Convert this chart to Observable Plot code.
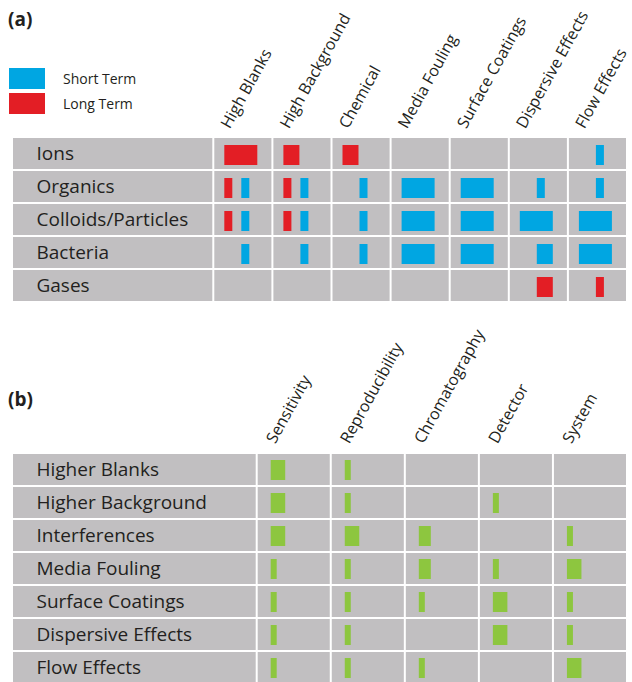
<!DOCTYPE html>
<html>
<head>
<meta charset="utf-8">
<script src="https://cdn.jsdelivr.net/npm/d3@7"></script>
<script src="https://cdn.jsdelivr.net/npm/@observablehq/plot@0.6"></script>
<style>
  html, body { margin: 0; padding: 0; overflow: hidden; background: white; }
  #wrap { position: relative; width: 632px; font-family: "Open Sans", sans-serif; color: #231f20; }
  .tag { position: absolute; left: 8px; font-weight: bold; font-size: 19px; line-height: 19px; }
  #legend { position: absolute; left: 9px; top: 68px; }
  #legend .lg-swatch > svg { margin-right: 18px !important; }
  #legend .lg-swatch { padding-bottom: 4px !important; }
  #legend .lg-swatches { margin: 0 !important; }
</style>
</head>
<body>
<div id="wrap">
  <div id="chartA"></div>
  <div id="chartB"></div>
  <div class="tag" style="top:10px">(a)</div>
  <div class="tag" style="top:390px">(b)</div>
  <div id="legend"></div>
</div>
<script>
// ---------- Panel (a) data ----------
const rowsA = ["Ions", "Organics", "Colloids/Particles", "Bacteria", "Gases"];
const colsA = ["High Blanks", "High Background", "Chemical", "Media Fouling",
               "Surface Coatings", "Dispersive Effects", "Flow Effects"];
const terms = ["Short Term", "Long Term"];
// [row, column, term, level (1 minor, 2 moderate, 3 major), lane (0 first, 1 second)]
const impactsA = [
  ["Ions", "High Blanks", "Long Term", 3, 0],
  ["Ions", "High Background", "Long Term", 2, 0],
  ["Ions", "Chemical", "Long Term", 2, 0],
  ["Ions", "Flow Effects", "Short Term", 1, 1],
  ["Organics", "High Blanks", "Long Term", 1, 0],
  ["Organics", "High Blanks", "Short Term", 1, 1],
  ["Organics", "High Background", "Long Term", 1, 0],
  ["Organics", "High Background", "Short Term", 1, 1],
  ["Organics", "Chemical", "Short Term", 1, 1],
  ["Organics", "Media Fouling", "Short Term", 3, 0],
  ["Organics", "Surface Coatings", "Short Term", 3, 0],
  ["Organics", "Dispersive Effects", "Short Term", 1, 1],
  ["Organics", "Flow Effects", "Short Term", 1, 1],
  ["Colloids/Particles", "High Blanks", "Long Term", 1, 0],
  ["Colloids/Particles", "High Blanks", "Short Term", 1, 1],
  ["Colloids/Particles", "High Background", "Long Term", 1, 0],
  ["Colloids/Particles", "High Background", "Short Term", 1, 1],
  ["Colloids/Particles", "Chemical", "Short Term", 1, 1],
  ["Colloids/Particles", "Media Fouling", "Short Term", 3, 0],
  ["Colloids/Particles", "Surface Coatings", "Short Term", 3, 0],
  ["Colloids/Particles", "Dispersive Effects", "Short Term", 3, 0],
  ["Colloids/Particles", "Flow Effects", "Short Term", 3, 0],
  ["Bacteria", "High Blanks", "Short Term", 1, 1],
  ["Bacteria", "High Background", "Short Term", 1, 1],
  ["Bacteria", "Chemical", "Short Term", 1, 1],
  ["Bacteria", "Media Fouling", "Short Term", 3, 0],
  ["Bacteria", "Surface Coatings", "Short Term", 3, 0],
  ["Bacteria", "Dispersive Effects", "Short Term", 2, 1],
  ["Bacteria", "Flow Effects", "Short Term", 3, 0],
  ["Gases", "Dispersive Effects", "Long Term", 2, 1],
  ["Gases", "Flow Effects", "Long Term", 1, 1]
];

// ---------- Panel (b) data ----------
const rowsB = ["Higher Blanks", "Higher Background", "Interferences", "Media Fouling",
               "Surface Coatings", "Dispersive Effects", "Flow Effects"];
const colsB = ["Sensitivity", "Reproducibility", "Chromatography", "Detector", "System"];
// level per row (rowsB) and column (colsB): 0 none, 1 minor, 2 moderate, 3 major
const levelsB = [
  [3, 1, 0, 0, 0],
  [3, 1, 0, 1, 0],
  [3, 3, 2, 0, 1],
  [1, 1, 2, 1, 3],
  [1, 1, 1, 3, 1],
  [1, 1, 0, 3, 1],
  [1, 1, 1, 0, 3]
];

// ---------- styling / layout ----------
const gray = "#c1bfc1", ink = "#231f20";
const blue = "#00a6e2", red = "#e31e25", green = "#8dc63f";
const font = "'Open Sans', sans-serif";

function panel({rows, cols, bars, geom, widthPx, laneOffsetPx, insetTop, insetBottom, colorOpts, fillOf, height, headDx, headDy}) {
  const colW = (geom.right - geom.split) / cols.length;
  const L = (geom.split - geom.left) / colW;
  const cells = rows.flatMap(r => [
    {row: r, x1: -L, x2: 0},
    ...cols.map((c, i) => ({row: r, x1: i, x2: i + 1}))
  ]);
  const rects = bars.map(b => {
    const ci = cols.indexOf(b.col);
    const x1 = ci + laneOffsetPx[b.lane] / colW;
    return {...b, x1, x2: x1 + widthPx[b.level] / colW};
  });
  return Plot.plot({
    width: 632, height,
    marginTop: geom.top, marginBottom: 0, marginLeft: geom.left, marginRight: 632 - geom.right,
    x: {domain: [-L, cols.length], range: [geom.left, geom.right], axis: null},
    y: {type: "band", domain: rows, range: [geom.top, geom.bottom], padding: 0, axis: null},
    color: colorOpts,
    style: {fontFamily: font, color: ink, background: "white", overflow: "visible"},
    marks: [
      Plot.barX(cells, {x1: "x1", x2: "x2", y: "row", fill: gray, inset: 1}),
      Plot.text(rows, {x: -L, y: d => d, text: d => d, textAnchor: "start", dx: 24, dy: -0.5,
                       fontSize: 19, fill: ink}),
      Plot.text(cols, {x: (d, i) => i, text: d => d, frameAnchor: "top", dx: headDx, dy: headDy,
                       rotate: -61, textAnchor: "start", lineAnchor: "bottom", fontSize: 16, fill: ink}),
      Plot.barX(rects, {x1: "x1", x2: "x2", y: "row", fill: fillOf, insetTop, insetBottom})
    ]
  });
}

const barsA = impactsA.map(([row, col, term, level, lane]) => ({row, col, term, level, lane}));
const chartA = panel({
  rows: rowsA, cols: colsA, bars: barsA,
  geom: {left: 12, split: 213.3, right: 627, top: 135, bottom: 304},
  widthPx: {1: 8, 2: 16, 3: 33}, laneOffsetPx: [11, 28],
  insetTop: 8, insetBottom: 5,
  colorOpts: {domain: terms, range: [blue, red]},
  fillOf: "term", height: 310, headDx: 16, headDy: -6
});
document.getElementById("chartA").append(chartA);

const barsB = rowsB.flatMap((r, ri) => colsB.map((c, ci) => ({row: r, col: c, level: levelsB[ri][ci], lane: 0})))
  .filter(d => d.level > 0);
const chartB = panel({
  rows: rowsB, cols: colsB, bars: barsB,
  geom: {left: 12, split: 256.7, right: 627, top: 141, bottom: 376.7},
  widthPx: {1: 6, 2: 12, 3: 14.5}, laneOffsetPx: [14],
  insetTop: 7, insetBottom: 6,
  colorOpts: undefined,
  fillOf: green, height: 377, headDx: 18, headDy: -7
});
document.getElementById("chartB").append(chartB);

const legend = Plot.legend({
  color: {domain: terms, range: [blue, red]},
  legend: "swatches", columns: 1, swatchWidth: 36, swatchHeight: 21,
  className: "lg",
  style: {fontFamily: font, fontSize: "14px", color: ink}
});
document.getElementById("legend").append(legend);
</script>
</body>
</html>
